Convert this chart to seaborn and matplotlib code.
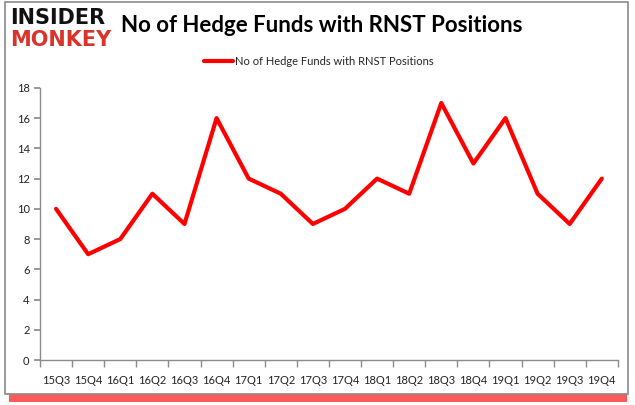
import matplotlib
matplotlib.use("Agg")
import matplotlib.pyplot as plt
import seaborn as sns
import pandas as pd
from matplotlib.patches import Rectangle

quarters = ["15Q3", "15Q4", "16Q1", "16Q2", "16Q3", "16Q4", "17Q1", "17Q2", "17Q3",
            "17Q4", "18Q1", "18Q2", "18Q3", "18Q4", "19Q1", "19Q2", "19Q3", "19Q4"]
funds = [10, 7, 8, 11, 9, 16, 12, 11, 9, 10, 12, 11, 17, 13, 16, 11, 9, 12]
y_ticks = [0, 2, 4, 6, 8, 10, 12, 14, 16, 18]
series_name = "No of Hedge Funds with RNST Positions"

sns.set_theme(style="white")
plt.rcParams['font.family'] = ['Lato', 'DejaVu Sans']

df = pd.DataFrame({"quarter": quarters, "funds": funds})
df["pos"] = range(len(df))

fig = plt.figure(figsize=(6.35, 4.05), dpi=100)

# outer frame with red shadow underneath
fig.patches.append(Rectangle((0.014, 0.008), 0.974, 0.025, transform=fig.transFigure,
                             facecolor="#ff3030", edgecolor="none", alpha=0.8, zorder=0))
fig.patches.append(Rectangle((0.008, 0.028), 0.981, 0.967, transform=fig.transFigure,
                             facecolor="white", edgecolor="#8a8a8a", lw=1.2, zorder=1))

ax = fig.add_axes([0.063, 0.111, 0.91, 0.672])
ax.set_zorder(2)
sns.lineplot(data=df, x="pos", y="funds", ax=ax, color="#ff0000", lw=3, label=series_name)

ax.set_xlim(-0.5, len(quarters) - 0.5)
ax.set_ylim(0, 18)
ax.set_yticks(y_ticks)
ax.set_xticks(df["pos"])
ax.set_xticklabels(quarters)
ax.set_xticks([i - 0.5 for i in range(len(quarters) + 1)], minor=True)
ax.set_xlabel("")
ax.set_ylabel("")
ax.set_facecolor("none")
for side in ["top", "right"]:
    ax.spines[side].set_visible(False)
for side in ["left", "bottom"]:
    ax.spines[side].set_color("#8c8c8c")
    ax.spines[side].set_linewidth(1)
ax.tick_params(axis="x", which="major", length=0, labelsize=8, colors="#222222", pad=11)
ax.tick_params(axis="x", which="minor", length=5, color="#8c8c8c", bottom=True)
ax.tick_params(axis="y", length=4, labelsize=8, colors="#222222", left=True, color="#8c8c8c")

ax.legend(loc="upper center", bbox_to_anchor=(0.483, 1.155), frameon=False,
          fontsize=8, handlelength=2.6, handletextpad=0.2)

# title and logo
fig.text(0.19, 0.938, "No of Hedge Funds with RNST Positions", fontsize=16,
         fontweight="bold", color="black", va="center", ha="left")
fig.text(0.016, 0.955, "INSIDER", fontsize=15, fontweight="heavy", color="#111111",
         va="center", ha="left", family=["DejaVu Sans"])
fig.text(0.016, 0.9, "MONKEY", fontsize=15, fontweight="heavy", color="#d9342b",
         va="center", ha="left", family=["DejaVu Sans"])

fig.savefig("out.png", dpi=100)
